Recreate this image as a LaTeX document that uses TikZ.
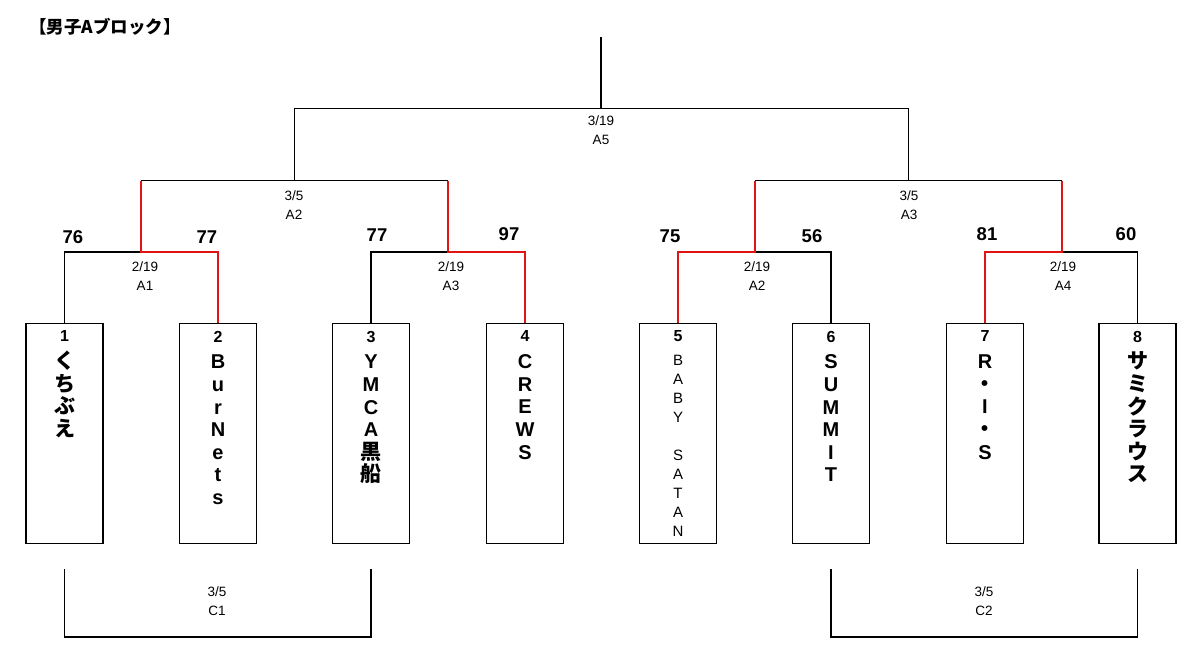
\documentclass[tikz,border=0pt]{standalone}
\usepackage{fontspec}
\setmainfont{Liberation Sans}
\newfontfamily\jpf{Noto Sans CJK JP}
\definecolor{winred}{RGB}{225,20,20}
\begin{document}
\begin{tikzpicture}[x=1pt,y=-1pt,
  line/.style={line width=1.6pt,black},
  win/.style={line width=2.5pt,winred},
  teambox/.style={draw,line width=1.6pt,minimum width=77pt,minimum height=220pt,inner sep=0pt},
  teamtxt/.style={anchor=north,inner sep=0pt,align=center,font=\bfseries\fontsize{20}{22.6}\selectfont},
  thintxt/.style={anchor=north,inner sep=0pt,align=center,font=\fontsize{15}{19}\selectfont},
  score/.style={font=\bfseries\fontsize{18.5}{20}\selectfont,inner sep=0pt},
  datelbl/.style={font=\fontsize{13.5}{19}\selectfont,align=center,inner sep=0pt,anchor=north}]
\useasboundingbox (0,0) rectangle (1200,669);
\newcommand{\nm}[1]{{\fontsize{16}{22.6}\selectfont #1}\\[4.2pt]}
\newcommand{\J}[1]{{\jpf\fontsize{21}{22.6}\selectfont #1}}
% title
\node[anchor=west,inner sep=0pt,font=\jpf\bfseries\fontsize{17.5}{19}\selectfont] (title) at (29,27) {【男子Aブロック】};
% boxes
\foreach \i/\x in {1/64.5,2/218,3/371,4/525,5/678,6/831,7/985,8/1137.5}
  \node[teambox] (b\i) at (\x,433.5) {};
% team texts
\node[teamtxt] (t1) at (b1.north) [yshift=-8pt] {\nm{1}\J{く}\\\J{ち}\\\J{ぶ}\\\J{え}};
\node[teamtxt] (t2) at (b2.north) [yshift=-8pt] {\nm{2}B\\u\\r\\N\\e\\t\\s};
\node[teamtxt] (t3) at (b3.north) [yshift=-8pt] {\nm{3}Y\\M\\C\\A\\\J{黒}\\\J{船}};
\node[teamtxt] (t4) at (b4.north) [yshift=-8pt] {\nm{4}C\\R\\E\\W\\S};
\node[thintxt] (t5) at (b5.north) [yshift=-8pt] {{\bfseries\fontsize{16}{23.5}\selectfont 5}\\[4.3pt]B\\A\\B\\Y\\[19pt]S\\A\\T\\A\\N};
\node[teamtxt] (t6) at (b6.north) [yshift=-8pt] {\nm{6}S\\U\\M\\M\\I\\T};
\node[teamtxt] (t7) at (b7.north) [yshift=-8pt] {\nm{7}R\\\J{・}\\I\\\J{・}\\S};
\node[teamtxt] (t8) at (b8.north) [yshift=-8pt] {\nm{8}\J{サ}\\\J{ミ}\\\J{ク}\\\J{ラ}\\\J{ウ}\\\J{ス}};
% junctions
\coordinate (m1) at (141,252);
\coordinate (m2) at (448,252);
\coordinate (m3) at (755,252);
\coordinate (m4) at (1062,252);
\coordinate (q1) at (294.5,180.5);
\coordinate (q2) at (908.5,180.5);
\coordinate (f) at (601,108.5);
\coordinate (top) at (601,37);
\coordinate (c1) at (217.75,637);
\coordinate (c2) at (984.25,637);
% black lines
\draw[line] (b1.north) |- (m1);
\draw[line] (b3.north) |- (m2);
\draw[line] (b6.north) |- (m3);
\draw[line] (b8.north) |- (m4);
\draw[line] (m1 |- q1) -- (m2 |- q1);
\draw[line] (m3 |- q2) -- (m4 |- q2);
\draw[line] (q1) |- (f) -| (q2);
\draw[line] (f) -- (top);
% red winner paths
\draw[win] (b2.north) |- (m1) -- (m1 |- q1);
\draw[win] (b4.north) |- (m2) -- (m2 |- q1);
\draw[win] (b5.north) |- (m3) -- (m3 |- q2);
\draw[win] (b7.north) |- (m4) -- (m4 |- q2);
% consolation brackets
\draw[line] ([yshift=-25pt]b1.south) |- (c1) -| ([yshift=-25pt]b3.south);
\draw[line] ([yshift=-25pt]b6.south) |- (c2) -| ([yshift=-25pt]b8.south);
% scores
\node[score] (s1) at (73,237) {76};
\node[score] (s2) at (207,237) {77};
\node[score] (s3) at (377,235) {77};
\node[score] (s4) at (509,234) {97};
\node[score] (s5) at (670,236) {75};
\node[score] (s6) at (812,236) {56};
\node[score] (s7) at (987,234) {81};
\node[score] (s8) at (1126,234) {60};
% date labels
\node[datelbl] (d1) at (145,262) {2/19\\A1};
\node[datelbl] (d2) at (451,262) {2/19\\A3};
\node[datelbl] (d3) at (757,262) {2/19\\A2};
\node[datelbl] (d4) at (1063,262) {2/19\\A4};
\node[datelbl] (d5) at (294,191) {3/5\\A2};
\node[datelbl] (d6) at (909,191) {3/5\\A3};
\node[datelbl] (d7) at (601,116) {3/19\\A5};
\node[datelbl] (d8) at (217,587) {3/5\\C1};
\node[datelbl] (d9) at (984,587) {3/5\\C2};
\end{tikzpicture}
\end{document}
